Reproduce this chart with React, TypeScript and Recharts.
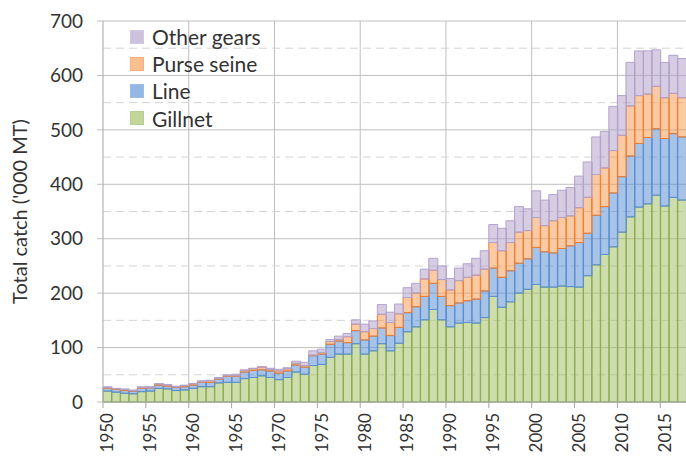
import React from "react";
import { Bar, BarChart, CartesianGrid, XAxis, YAxis } from "recharts";

const years = [
  1950, 1951, 1952, 1953, 1954, 1955, 1956, 1957, 1958, 1959,
  1960, 1961, 1962, 1963, 1964, 1965, 1966, 1967, 1968, 1969,
  1970, 1971, 1972, 1973, 1974, 1975, 1976, 1977, 1978, 1979,
  1980, 1981, 1982, 1983, 1984, 1985, 1986, 1987, 1988, 1989,
  1990, 1991, 1992, 1993, 1994, 1995, 1996, 1997, 1998, 1999,
  2000, 2001, 2002, 2003, 2004, 2005, 2006, 2007, 2008, 2009,
  2010, 2011, 2012, 2013, 2014, 2015, 2016, 2017,
];

// '000 MT
const gillnet = [
  20, 18, 16, 15, 19, 20, 25, 24, 21, 22,
  25, 28, 28, 35, 36, 36, 43, 45, 48, 45,
  41, 45, 55, 51, 67, 69, 82, 88, 88, 107,
  88, 94, 107, 94, 108, 129, 138, 151, 170, 151,
  138, 145, 146, 145, 155, 194, 174, 184, 200, 207,
  216, 211, 211, 213, 212, 211, 232, 252, 271, 285,
  312, 340, 358, 364, 380, 360, 376, 371,
];
const line = [
  5, 5, 5, 5, 6, 6, 6, 5, 6, 6,
  6, 8, 8, 7, 11, 11, 12, 13, 11, 12,
  12, 12, 13, 13, 18, 19, 24, 24, 21, 24,
  26, 27, 29, 28, 29, 35, 37, 43, 48, 43,
  39, 37, 40, 44, 49, 52, 55, 57, 55, 56,
  68, 65, 63, 69, 75, 82, 78, 91, 88, 99,
  102, 112, 117, 122, 122, 124, 117, 116,
];
const purseSeine = [
  1, 1, 2, 1, 1, 1, 2, 2, 1, 2,
  2, 1, 3, 1, 1, 1, 3, 3, 5, 3,
  4, 4, 3, 3, 1, 3, 5, 3, 11, 12,
  15, 14, 25, 24, 25, 28, 25, 32, 24, 31,
  29, 41, 43, 44, 40, 47, 49, 52, 57, 52,
  55, 48, 59, 57, 55, 64, 66, 75, 71, 78,
  76, 92, 88, 80, 78, 75, 74, 72,
];
const otherGears = [
  2, 1, 1, 1, 2, 1, 1, 1, 1, 1,
  1, 2, 1, 2, 2, 3, 1, 1, 1, 2,
  3, 2, 4, 6, 8, 6, 4, 6, 6, 8,
  14, 14, 18, 19, 18, 18, 18, 18, 22, 25,
  21, 23, 25, 31, 34, 33, 41, 40, 47, 40,
  49, 47, 48, 50, 52, 58, 65, 69, 67, 81,
  73, 80, 82, 79, 67, 65, 70, 72,
];

const yTicks = [0, 100, 200, 300, 400, 500, 600, 700];
const dashedLevels = [50, 150, 250, 350, 450, 550, 650];
const decadeLines = [1960, 1970, 1980, 1990, 2000, 2010];

const series = [
  { key: "gillnet", name: "Gillnet", base: "#9bbb59", edge: "#8aab52" },
  { key: "line", name: "Line", base: "#4f88d2", edge: "#5b8fd6" },
  { key: "purse", name: "Purse seine", base: "#f79646", edge: "#ed7d31" },
  { key: "other", name: "Other gears", base: "#ad9bc7", edge: "#b2a3cd" },
];

const data = years.map((year, i) => ({
  year,
  gillnet: gillnet[i],
  line: line[i],
  purse: purseSeine[i],
  other: otherGears[i],
}));

const W = 686;
const H = 463;
const FONT = "Lato, 'Open Sans', sans-serif";
const TEXT = "#333333";

const decadeCoords = ({ xAxis, offset }: any) => {
  const n = years.length;
  return decadeLines.map((yr) => {
    const idx = years.indexOf(yr);
    if (xAxis && typeof xAxis.scale === "function") {
      const v = xAxis.scale(yr);
      if (typeof v === "number" && !isNaN(v)) return v;
    }
    return offset.left + (offset.width * idx) / n;
  });
};

function YearTick(props: any) {
  const { x, y, payload } = props;
  const band = (W - 103) / years.length;
  const tx = x - band / 2;
  return (
    <g>
      <line x1={tx} x2={tx} y1={y - 11} y2={y - 5} stroke="#a6a6a6" />
      <text
        x={x}
        y={y}
        transform={`rotate(-90 ${x} ${y})`}
        textAnchor="end"
        dy="0.36em"
        fontFamily={FONT}
        fontSize={17}
        fill={TEXT}
      >
        {payload.value}
      </text>
    </g>
  );
}

function GearLegend() {
  return (
    <div
      style={{
        position: "absolute",
        left: 130,
        top: 23,
        fontFamily: FONT,
        fontSize: 21,
        color: TEXT,
        pointerEvents: "none",
      }}
    >
      {[...series].reverse().map((s) => (
        <div key={s.key} style={{ height: 27.2, display: "flex", alignItems: "center" }}>
          <span
            style={{
              width: 12,
              height: 12,
              border: `1px solid ${s.edge}`,
              background: s.base,
              opacity: 0.6,
              marginRight: 8,
              display: "inline-block",
            }}
          />
          <span>{s.name}</span>
        </div>
      ))}
    </div>
  );
}

export default function App() {
  return (
    <div style={{ position: "absolute", left: 0, top: 0, width: W, height: H, background: "#fff" }}>
      <BarChart
        width={W}
        height={H}
        data={data}
        margin={{ top: 21, right: 0, bottom: 0, left: 0 }}
        barCategoryGap={0}
        barGap={0}
      >
        <CartesianGrid
          stroke="#bfbfbf"
          horizontalValues={yTicks}
          verticalCoordinatesGenerator={decadeCoords}
          vertical
        />
        <CartesianGrid
          stroke="#d4d4d4"
          strokeDasharray="8 5"
          horizontalValues={dashedLevels}
          vertical={false}
        />
        <XAxis
          dataKey="year"
          interval={4}
          height={61}
          tickSize={6}
          tickMargin={5}
          tickLine={false}
          axisLine={{ stroke: "#a6a6a6" }}
          tick={<YearTick />}
        />
        <YAxis
          width={103}
          domain={[0, 700]}
          ticks={yTicks}
          interval={0}
          tickSize={6}
          tickMargin={14}
          axisLine={{ stroke: "#a6a6a6" }}
          tickLine={{ stroke: "#bfbfbf" }}
          tick={{ fontFamily: FONT, fontSize: 19, fill: TEXT }}
          label={{
            content: (p: any) => {
              const vb = p.viewBox || { y: 21, height: 381 };
              const cx = 19;
              const cy = vb.y + vb.height / 2;
              return (
                <text
                  x={cx}
                  y={cy}
                  transform={`rotate(-90 ${cx} ${cy})`}
                  textAnchor="middle"
                  dominantBaseline="central"
                  fontFamily={FONT}
                  fontSize={20}
                  fill={TEXT}
                >
                  Total catch ('000 MT)
                </text>
              );
            },
          }}
        />
        {series.map((s) => (
          <Bar
            key={s.key}
            dataKey={s.key}
            name={s.name}
            stackId="catch"
            fill={s.base}
            fillOpacity={0.5}
            stroke={s.edge}
            strokeWidth={1}
            isAnimationActive={false}
          />
        ))}
      </BarChart>
      <GearLegend />
    </div>
  );
}
